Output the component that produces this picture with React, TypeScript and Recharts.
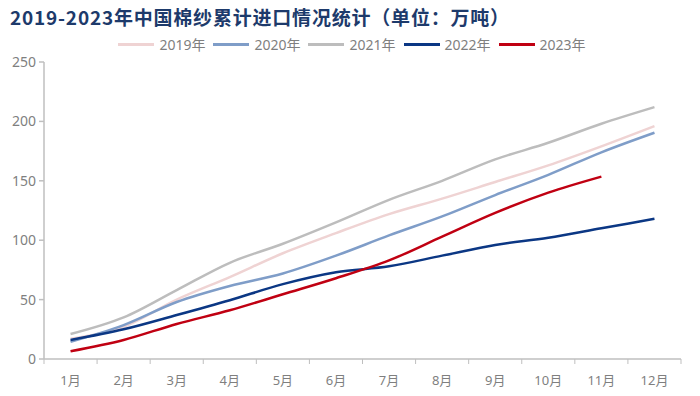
import { LineChart, Line, XAxis, YAxis, Legend } from "recharts";

const months = ["1月", "2月", "3月", "4月", "5月", "6月", "7月", "8月", "9月", "10月", "11月", "12月"];
const y2019 = [17, 27, 50, 69, 89, 106, 122, 135, 149, 163, 179, 196];
const y2020 = [14.5, 28.5, 48, 61.5, 72, 87, 104, 120, 138, 155, 174, 190.5];
const y2021 = [21, 35, 58, 81, 97, 115, 134, 150, 168, 182, 198, 212];
const y2022 = [16, 25, 37, 49.5, 63, 73, 78, 87, 96, 102, 110, 118];
const y2023 = [6.5, 16, 29.5, 41, 54.5, 68, 83, 103, 123, 140, 153.5];
const yTicks = [0, 50, 100, 150, 200, 250];

const seriesList = [
    { key: "y2019", name: "2019年", color: "#efd3d3" },
    { key: "y2020", name: "2020年", color: "#7f9dc8" },
    { key: "y2021", name: "2021年", color: "#bdbdbd" },
    { key: "y2022", name: "2022年", color: "#0b3784" },
    { key: "y2023", name: "2023年", color: "#c00012" },
];

const data = months.map((m, i) => ({
    month: m,
    y2019: y2019[i],
    y2020: y2020[i],
    y2021: y2021[i],
    y2022: y2022[i],
    y2023: y2023[i],
}));

const LEFT = 44;
const RIGHT = 19;
const BAND = (700 - LEFT - RIGHT) / months.length;
const FONT = "'Noto Sans', 'Noto Sans CJK SC', sans-serif";

const XTick = (props: any) => {
    const { x, y, payload, index } = props;
    const half = BAND / 2;
    return (
        <g>
            <line x1={x - half} x2={x - half} y1={y} y2={y + 5} stroke="#bfbfbf" />
            {index === months.length - 1 && (
                <line x1={x + half} x2={x + half} y1={y} y2={y + 5} stroke="#bfbfbf" />
            )}
            <text x={x} y={y + 26} textAnchor="middle" fill="#7f7f7f" fontSize={13} fontFamily={FONT}>
                {payload.value}
            </text>
        </g>
    );
};

// legend drawn in one row above the plot
const LegendRow = () => (
    <div style={{ display: "flex", justifyContent: "center", height: 18, alignItems: "center", paddingLeft: 12 }}>
        {seriesList.map((s) => (
            <div key={s.key} style={{ display: "flex", alignItems: "center", marginRight: 8 }}>
                <div style={{ width: 36, height: 3, background: s.color, marginRight: 5 }} />
                <span style={{ color: "#7f7f7f", fontSize: 14, fontFamily: FONT }}>{s.name}</span>
            </div>
        ))}
    </div>
);

export default function App() {
    return (
        <div style={{ position: "absolute", left: 0, top: 0, width: 700, height: 396, background: "#fff" }}>
            <div
                style={{
                    position: "absolute",
                    left: 10,
                    top: 3,
                    fontSize: 19,
                    letterSpacing: 0.8,
                    fontWeight: 700,
                    color: "#1d3a6b",
                    fontFamily: "'Noto Sans CJK SC', sans-serif",
                    whiteSpace: "nowrap",
                }}
            >
                2019-2023年中国棉纱累计进口情况统计（单位：万吨）
            </div>
            <LineChart width={700} height={396} data={data} margin={{ top: 44, right: RIGHT, bottom: 0, left: 0 }}>
                <Legend verticalAlign="top" content={<LegendRow />} wrapperStyle={{ top: 35, left: 0, width: 700 }} />
                <XAxis
                    dataKey="month"
                    height={37}
                    padding={{ left: BAND / 2, right: BAND / 2 }}
                    stroke="#bfbfbf"
                    strokeWidth={1.5}
                    tickLine={false}
                    tickSize={0}
                    tickMargin={0}
                    tick={<XTick />}
                    interval={0}
                />
                <YAxis
                    width={LEFT}
                    domain={[0, 250]}
                    ticks={yTicks}
                    stroke="#bfbfbf"
                    strokeWidth={1.5}
                    tickSize={5}
                    tickMargin={3}
                    tick={{ fill: "#7f7f7f", fontSize: 14, fontFamily: FONT }}
                />
                {seriesList.map((s) => (
                    <Line
                        key={s.key}
                        type="monotone"
                        dataKey={s.key}
                        name={s.name}
                        stroke={s.color}
                        strokeWidth={2.5}
                        dot={false}
                        isAnimationActive={false}
                    />
                ))}
            </LineChart>
        </div>
    );
}
